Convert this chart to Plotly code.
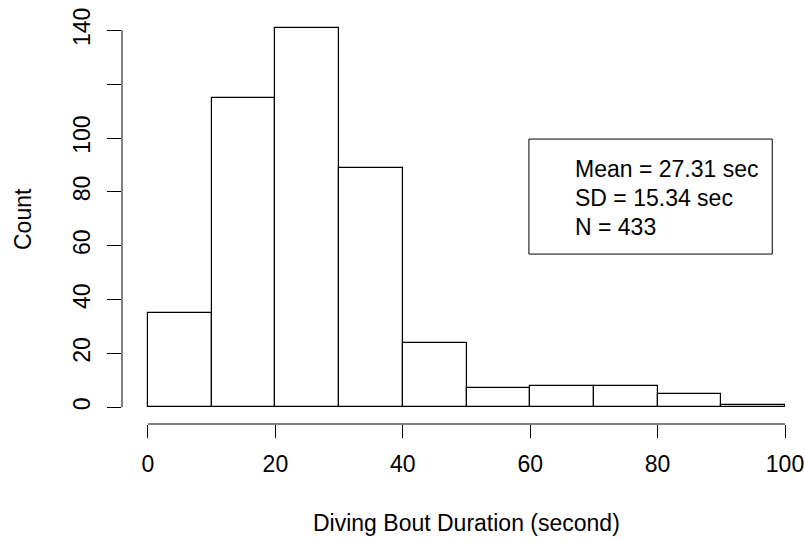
import plotly.graph_objects as go

bin_edges = [0, 10, 20, 30, 40, 50, 60, 70, 80, 90, 100]
counts = [35, 115, 141, 89, 24, 7, 8, 8, 5, 1]
x_ticks = [0, 20, 40, 60, 80, 100]
y_ticks = [0, 20, 40, 60, 80, 100, 120, 140]
y_tick_text = ["0", "20", "40", "60", "80", "100", "", "140"]
stats_lines = ["Mean = 27.31 sec", "SD = 15.34 sec", "N = 433"]

mids = [(a + b) / 2 for a, b in zip(bin_edges[:-1], bin_edges[1:])]
widths = [b - a for a, b in zip(bin_edges[:-1], bin_edges[1:])]

FONT = "Liberation Sans, Arial, sans-serif"
FS = 23

fig = go.Figure()
fig.add_trace(go.Bar(
    x=mids, y=counts, width=widths,
    marker=dict(color="white", line=dict(color="black", width=1.2)),
    hoverinfo="x+y", showlegend=False,
))

fig.update_layout(
    width=805, height=542,
    margin=dict(l=122, r=20, t=16, b=118, autoexpand=False),
    plot_bgcolor="white", paper_bgcolor="white",
    font=dict(family=FONT, size=FS, color="black"),
    bargap=0,
    xaxis=dict(
        range=[-4.08, 100], showgrid=False, zeroline=False, showline=False,
        automargin=False,
        tickmode="array", tickvals=x_ticks, ticks="outside", ticklen=13,
        tickwidth=1, tickcolor="black", ticklabelstandoff=6,
        tickfont=dict(family=FONT, size=FS, color="black"),
    ),
    yaxis=dict(
        range=[-6.2, 145.3], showgrid=False, zeroline=False, showline=False,
        automargin=False,
        tickmode="array", tickvals=y_ticks, ticktext=y_tick_text,
        ticks="outside", ticklen=14, tickwidth=1, tickcolor="black",
        tickangle=-90, ticklabelstandoff=8,
        tickfont=dict(family=FONT, size=FS, color="black"),
    ),
)

# R-style detached axis lines
fig.add_shape(type="line", xref="paper", yref="y", x0=0, x1=0,
              y0=y_ticks[0], y1=y_ticks[-1], line=dict(color="black", width=1))
fig.add_shape(type="line", xref="x", yref="paper", x0=x_ticks[0], x1=x_ticks[-1],
              y0=0, y1=0, line=dict(color="black", width=1))

# Legend-style stats box
fig.add_shape(type="rect", xref="x", yref="y", x0=59.8, x1=98.0, y0=56.9, y1=99.6,
              line=dict(color="black", width=1), fillcolor="rgba(0,0,0,0)")
for i, line in enumerate(stats_lines):
    fig.add_annotation(x=66.7, y=88.5 - i * 10.8, xref="x", yref="y", text=line,
                       showarrow=False, xanchor="left", yanchor="middle",
                       font=dict(family=FONT, size=FS, color="black"))

# Axis titles
fig.add_annotation(x=50, y=-0.2426, xref="x", yref="paper",
                   text="Diving Bout Duration (second)", showarrow=False,
                   xanchor="center", yanchor="middle",
                   font=dict(family=FONT, size=FS, color="black"))
fig.add_annotation(x=-0.149, y=70, xref="paper", yref="y", text="Count",
                   showarrow=False, textangle=-90, xanchor="center", yanchor="middle",
                   font=dict(family=FONT, size=FS, color="black"))

fig.write_html("out.html")
